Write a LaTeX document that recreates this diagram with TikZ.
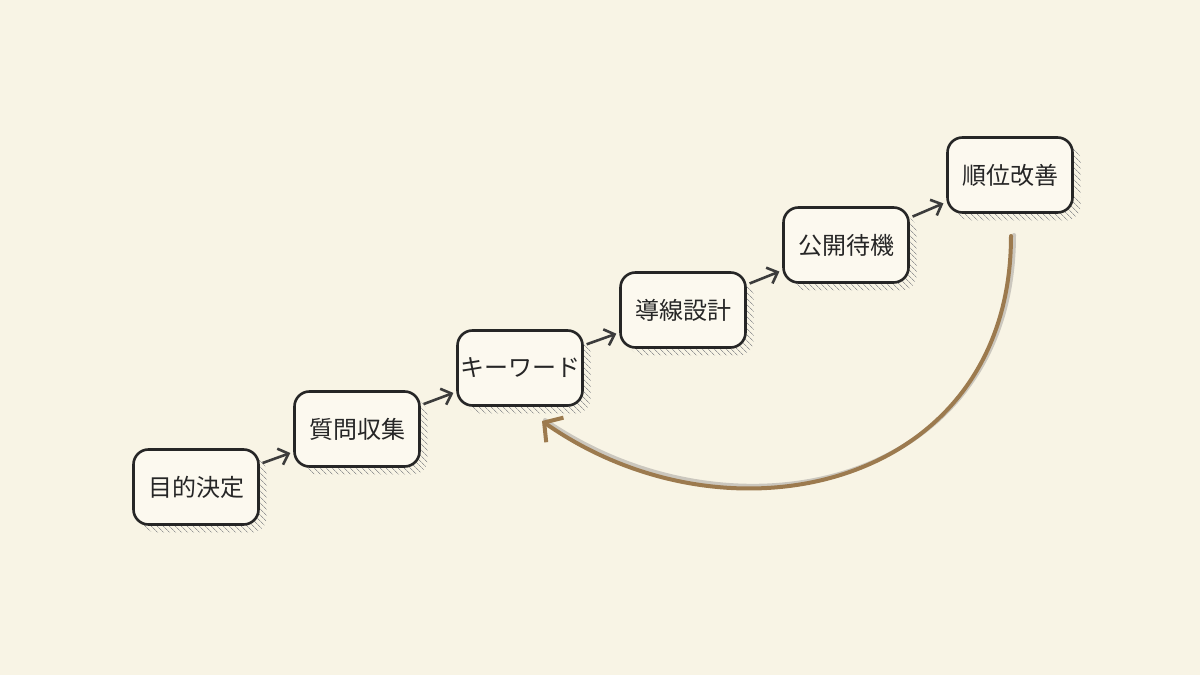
\documentclass[tikz,border=0pt]{standalone}
\usepackage{fontspec}
\setmainfont{Noto Sans CJK JP}
\usetikzlibrary{arrows.meta,shadows,patterns.meta}
\definecolor{bgc}{HTML}{F8F4E5}
\definecolor{boxfill}{HTML}{FCF9EF}
\definecolor{ink}{HTML}{262626}
\definecolor{brownline}{HTML}{9C7A4E}
\definecolor{curveshadow}{HTML}{CBC7BE}
\tikzset{
  stepbox/.style={draw=ink, line width=2.6pt, fill=boxfill, rounded corners=15pt,
    minimum width=125pt, minimum height=75pt, inner sep=0pt,
    font=\fontsize{24pt}{28pt}\selectfont, text=ink,
    general shadow={shadow xshift=8pt, shadow yshift=-8pt, draw=none,
      pattern={Lines[angle=-45,distance=4pt,line width=0.8pt]}, pattern color=ink!48}},
  flowarrow/.style={draw=ink!90, line width=2.6pt, shorten <=3pt, shorten >=3pt,
    -{Straight Barb[length=9pt,width=17pt,line width=2.6pt]}},
  backarrow/.style={draw=brownline, line width=4pt, line cap=round,
    -{Straight Barb[length=13pt,width=30pt,line width=4pt]}},
  backshadow/.style={draw=curveshadow, line width=4pt, line cap=round}
}
\begin{document}
\begin{tikzpicture}[x=1pt,y=1pt]
\fill[bgc] (0,0) rectangle (1200,675);
\useasboundingbox (0,0) rectangle (1200,675);
\node[stepbox] (a) at (196,188) {目的決定};
\node[stepbox] (b) at (357,246) {質問収集};
\node[stepbox] (c) at (520,307) {キーワード};
\node[stepbox] (d) at (683,365) {導線設計};
\node[stepbox] (e) at (846,430) {公開待機};
\node[stepbox] (f) at (1010,500) {順位改善};
\draw[flowarrow] (a) -- (b);
\draw[flowarrow] (b) -- (c);
\draw[flowarrow] (c) -- (d);
\draw[flowarrow] (d) -- (e);
\draw[flowarrow] (e) -- (f);
\coordinate (s) at (1011,439);
\coordinate (t) at (542,254);
\draw[backshadow] ([shift={(3,1)}]s) .. controls (1014,190) and (735,124) .. ([shift={(3,1)}]t);
\draw[backarrow] (s) .. controls (1011,189) and (732,121) .. (t);
\end{tikzpicture}
\end{document}
